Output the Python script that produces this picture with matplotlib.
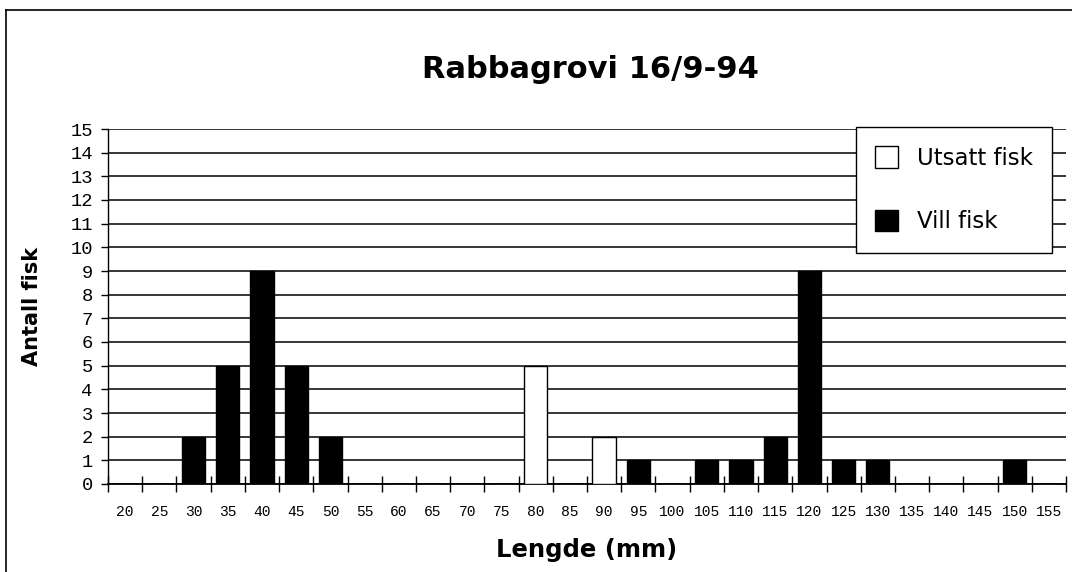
import matplotlib.pyplot as plt
from matplotlib.lines import Line2D
from matplotlib.patches import Patch

# length classes (mm)
lengths = list(range(20, 160, 5))
# counts
vill_fisk = {30: 2, 35: 5, 40: 9, 45: 5, 50: 2, 95: 1, 105: 1, 110: 1,
             115: 2, 120: 9, 125: 1, 130: 1, 150: 1}
utsatt_fisk = {80: 5, 90: 2}

vill = [vill_fisk.get(l, 0) for l in lengths]
utsatt = [utsatt_fisk.get(l, 0) for l in lengths]
y_ticks = list(range(0, 16))

label_font = 'DejaVu Sans'
W, H = 1072, 572

fig = plt.figure(figsize=(W / 100, H / 100), dpi=100)
ax = fig.add_axes([108 / W, 1 - 484 / H, (1066 - 108) / W, (484 - 129) / H])

x = list(range(len(lengths)))
ax.bar(x, vill, width=0.68, color='black', edgecolor='black', linewidth=1, zorder=3)
ax.bar(x, utsatt, width=0.68, color='white', edgecolor='black', linewidth=1, zorder=3)

ax.set_xlim(-0.5, len(lengths) - 0.5)
ax.set_ylim(0, 15)

# y axis
ax.set_yticks(y_ticks)
ax.set_yticklabels([str(v) for v in y_ticks], fontfamily='Liberation Mono', fontsize=13.5)
ax.tick_params(axis='y', direction='out', length=5, width=1, pad=6, color='black')
ax.yaxis.grid(True, color='black', linewidth=1.1, zorder=0)
ax.set_axisbelow(True)

# x axis: labels at centres, ticks at boundaries
ax.set_xticks(x)
ax.set_xticklabels([str(l) for l in lengths], fontfamily='Liberation Mono', fontsize=10.5)
ax.tick_params(axis='x', which='major', length=0, pad=15)
ax.set_xticks([i - 0.5 for i in range(len(lengths) + 1)], minor=True)
ax.tick_params(axis='x', which='minor', direction='inout', length=11, width=1, color='black')

for side in ['top', 'right']:
    ax.spines[side].set_visible(False)
ax.spines['left'].set_linewidth(1)
ax.spines['bottom'].set_linewidth(1.3)

ax.set_xlabel('Lengde (mm)', fontfamily=label_font, fontweight='bold', fontsize=17.5, labelpad=14)
ax.set_ylabel('Antall fisk', fontfamily=label_font, fontweight='bold', fontsize=15, labelpad=20)

fig.text(590 / W, 1 - 70 / H, 'Rabbagrovi 16/9-94', fontfamily=label_font,
         fontweight='bold', fontsize=22, ha='center', va='center')

handles = [Patch(facecolor='white', edgecolor='black', linewidth=1),
           Patch(facecolor='black', edgecolor='black', linewidth=1)]
leg = ax.legend(handles, ['Utsatt fisk', 'Vill fisk'], loc='upper left',
                bbox_to_anchor=((856 - 108) / 958, (484 - 127) / 355),
                frameon=True, fancybox=False, edgecolor='black', framealpha=1,
                prop={'family': label_font, 'size': 16.5},
                handlelength=1.0, handleheight=1.05, handletextpad=0.8,
                labelspacing=1.75, borderpad=0.85, borderaxespad=0)
leg.get_frame().set_linewidth(1)
leg.set_zorder(5)

# outer frame (top and left edges only)
fig.add_artist(Line2D([6 / W, 1], [1 - 10 / H, 1 - 10 / H], color='black', linewidth=1.2))
fig.add_artist(Line2D([6 / W, 6 / W], [0, 1 - 10 / H], color='black', linewidth=1.2))

fig.savefig('out.png', dpi=100)
